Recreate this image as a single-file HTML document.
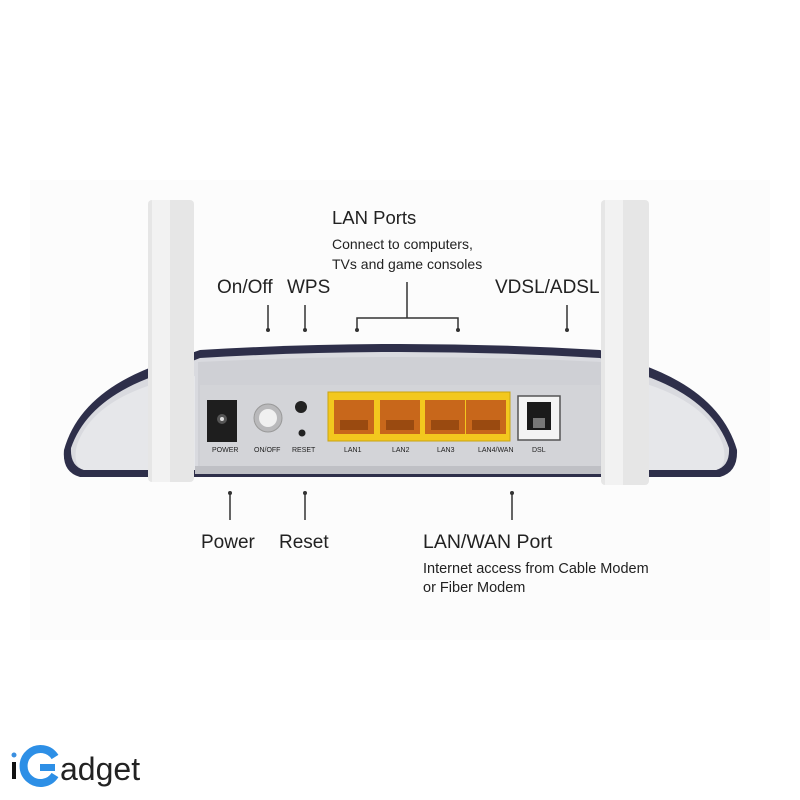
<!DOCTYPE html>
<html><head><style>
html,body{margin:0;padding:0;background:#fff;}
svg{display:block}
text{font-family:"Liberation Sans",sans-serif;fill:#222}
</style></head><body>
<svg width="800" height="800" viewBox="0 0 800 800" xmlns="http://www.w3.org/2000/svg">
<rect width="800" height="800" fill="#fff"/>
<rect x="30" y="180" width="740" height="460" fill="#fcfcfc"/>
<!-- body outer shell -->
<path d="M200,350 Q400,338 600,350 L640,364 Q720,392 737,450 Q738,472 720,477 L80,477 Q62,472 64,450 Q80,392 160,364 Z" fill="#2e2f4a"/>
<path d="M200,358 Q400,346 600,358 L640,374 Q712,398 729,448 Q730,466 716,470 L84,470 Q70,466 71,448 Q88,398 160,374 Z" fill="#d9dadf"/>
<path d="M77,445 Q92,402 160,382 L195,376 L195,470 L84,470 Q72,466 77,445Z" fill="#e6e7ea"/>
<path d="M723,445 Q708,402 640,382 L605,376 L605,470 L716,470 Q728,466 723,445Z" fill="#e6e7ea"/>
<!-- inner panel -->
<path d="M198,362 Q400,352 602,362 L602,468 L198,468 Z" fill="#cfd0d5"/>
<rect x="200" y="385" width="400" height="82" fill="#d3d4d8"/>
<rect x="195" y="466" width="410" height="8" fill="#bfc0c5"/>
<!-- antennas -->
<rect x="148" y="200" width="46" height="282" rx="4" fill="#e6e6e6"/>
<rect x="152" y="200" width="18" height="282" fill="#f2f2f2"/>
<rect x="601" y="200" width="48" height="285" rx="4" fill="#e6e6e6"/>
<rect x="605" y="200" width="18" height="285" fill="#f2f2f2"/>
<!-- power jack -->
<rect x="207" y="400" width="30" height="42" fill="#1e1e1e"/>
<circle cx="222" cy="419" r="5" fill="#555"/><circle cx="222" cy="419" r="2" fill="#ddd"/>
<!-- on/off -->
<circle cx="268" cy="418" r="14" fill="#b9b9bb" stroke="#999" stroke-width="1"/>
<circle cx="268" cy="418" r="9" fill="#f0f0f0"/>
<!-- wps/reset -->
<circle cx="301" cy="407" r="6" fill="#222"/>
<circle cx="302" cy="433" r="3.5" fill="#222"/>
<!-- yellow block -->
<rect x="328" y="392" width="182" height="49" fill="#f3c81e" stroke="#c9a312"/>
<g fill="#c8671b">
<rect x="334" y="400" width="40" height="34"/><rect x="380" y="400" width="40" height="34"/><rect x="425" y="400" width="40" height="34"/><rect x="466" y="400" width="40" height="34"/>
</g>
<g fill="#9a4a10">
<rect x="340" y="420" width="28" height="10"/><rect x="386" y="420" width="28" height="10"/><rect x="431" y="420" width="28" height="10"/><rect x="472" y="420" width="28" height="10"/>
</g>
<!-- DSL -->
<rect x="518" y="396" width="42" height="44" fill="#f4f4f4" stroke="#555" stroke-width="1.5"/>
<rect x="527" y="402" width="24" height="28" fill="#1a1a1a"/>
<rect x="533" y="418" width="12" height="10" fill="#777"/>
<!-- port labels -->
<g font-size="7">
<text x="212" y="452" fill="#aaa">POWER</text><text x="254" y="452" fill="#aaa">ON/OFF</text><text x="292" y="452" fill="#aaa">RESET</text>
<text x="344" y="452" fill="#aaa">LAN1</text><text x="392" y="452" fill="#aaa">LAN2</text><text x="437" y="452" fill="#aaa">LAN3</text><text x="478" y="452" fill="#aaa">LAN4/WAN</text><text x="532" y="452" fill="#aaa">DSL</text>
</g>
<!-- connectors -->
<g stroke="#333" stroke-width="1.5" fill="none">
<line x1="268" y1="305" x2="268" y2="330"/>
<line x1="305" y1="305" x2="305" y2="330"/>
<line x1="407" y1="282" x2="407" y2="318"/>
<polyline points="357,330 357,318 458,318 458,330"/>
<line x1="567" y1="305" x2="567" y2="330"/>
<line x1="230" y1="493" x2="230" y2="520"/>
<line x1="305" y1="493" x2="305" y2="520"/>
<line x1="512" y1="493" x2="512" y2="520"/>
</g>
<g fill="#333">
<circle cx="268" cy="330" r="2"/><circle cx="305" cy="330" r="2"/><circle cx="357" cy="330" r="2"/><circle cx="458" cy="330" r="2"/><circle cx="567" cy="330" r="2"/>
<circle cx="230" cy="493" r="2"/><circle cx="305" cy="493" r="2"/><circle cx="512" cy="493" r="2"/>
</g>
<!-- labels -->
<text x="332" y="224" font-size="18.5">LAN Ports</text>
<text x="332" y="249" font-size="14">Connect to computers,</text>
<text x="332" y="269" font-size="14">TVs and game consoles</text>
<text x="217" y="293" font-size="19">On/Off</text>
<text x="287" y="293" font-size="19">WPS</text>
<text x="495" y="293" font-size="19">VDSL/ADSL</text>
<text x="201" y="548" font-size="19">Power</text>
<text x="279" y="548" font-size="19">Reset</text>
<text x="423" y="548" font-size="19.5">LAN/WAN Port</text>
<text x="423" y="573" font-size="14.5">Internet access from Cable Modem</text>
<text x="423" y="592" font-size="14.5">or Fiber Modem</text>
<!-- logo -->
<circle cx="14" cy="755" r="2.5" fill="#3a8fe0"/>
<rect x="12" y="762" width="4" height="17" fill="#111"/>
<path d="M55,757 A17,17 0 1 0 55,775" fill="none" stroke="#2d8fe6" stroke-width="8"/>
<rect x="40" y="764" width="15" height="7" fill="#2d8fe6"/>
<text x="60" y="780" font-size="32" fill="#111">adget</text>
</svg>
</body></html>
